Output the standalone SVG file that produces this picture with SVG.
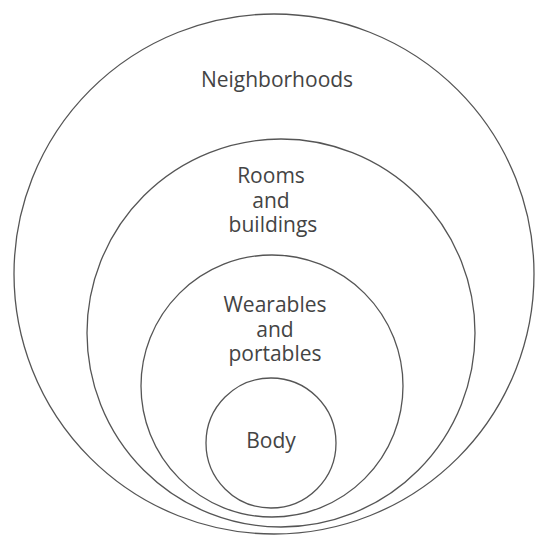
<svg xmlns="http://www.w3.org/2000/svg" width="536" height="538" viewBox="0 0 536 538">
<style>
.ring{fill:none;stroke:#555;stroke-width:1.3}
.lbl{font-family:"Open Sans","Noto Sans","Liberation Sans",sans-serif;font-size:21px;fill:#444;text-anchor:middle}
</style>
<rect width="536" height="538" fill="#fff"/>
<g id="neighborhoods">
<circle class="ring" cx="274" cy="274" r="260"/>
<text class="lbl" x="277" y="87">Neighborhoods</text>
</g>
<g id="rooms">
<circle class="ring" cx="281" cy="333" r="194"/>
<text class="lbl" x="271" y="183">Rooms</text>
<text class="lbl" x="271" y="208">and</text>
<text class="lbl" x="273" y="232">buildings</text>
</g>
<g id="wearables">
<circle class="ring" cx="272" cy="386" r="131"/>
<text class="lbl" x="275" y="312">Wearables</text>
<text class="lbl" x="275" y="337">and</text>
<text class="lbl" x="275" y="361">portables</text>
</g>
<g id="body">
<circle class="ring" cx="271" cy="443" r="65"/>
<text class="lbl" x="271" y="448">Body</text>
</g>
<g id="connectors"/>
</svg>
